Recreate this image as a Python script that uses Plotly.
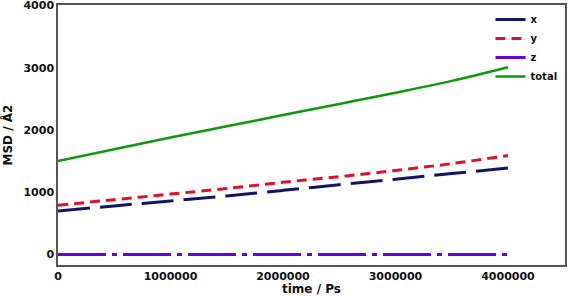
import plotly.graph_objects as go

time_ps = [0, 500000, 1000000, 1500000, 2000000, 2500000, 3000000, 3500000, 4000000]
msd_x = [700, 780, 860, 940, 1030, 1120, 1210, 1300, 1390]
msd_y = [790, 880, 970, 1060, 1160, 1250, 1350, 1460, 1590]
msd_z = [0, 0, 0, 0, 0, 0, 0, 0, 0]
msd_total = [1500, 1690, 1880, 2060, 2240, 2420, 2600, 2790, 3010]

x_ticks = [0, 1000000, 2000000, 3000000, 4000000]
y_ticks = [0, 1000, 2000, 3000, 4000]

font = dict(family="DejaVu Sans", size=11, color="#111111", weight="bold")

fig = go.Figure()
fig.add_trace(go.Scatter(x=time_ps, y=msd_x, name="x", mode="lines", line_shape="spline",
                         line=dict(color="#141466", width=3, dash="32px,10px")))
fig.add_trace(go.Scatter(x=time_ps, y=msd_y, name="y", mode="lines", line_shape="spline",
                         line=dict(color="#e0102a", width=3, dash="10px,6px")))
fig.add_trace(go.Scatter(x=time_ps, y=msd_z, name="z", mode="lines",
                         line=dict(color="#6a00d8", width=3, dash="48px,6px,5px,6px")))
fig.add_trace(go.Scatter(x=time_ps, y=msd_total, name="total", mode="lines", line_shape="spline",
                         line=dict(color="#0a9a0a", width=2.5)))

fig.update_layout(
    width=568, height=296,
    margin=dict(l=58, r=3, t=5, b=31),
    paper_bgcolor="white", plot_bgcolor="white",
    font=font,
    showlegend=True,
    legend=dict(x=0.995, y=1.0, xanchor="right", yanchor="top",
                bgcolor="rgba(0,0,0,0)", font=dict(family="DejaVu Sans", size=10, weight="bold"),
                tracegroupgap=0, itemwidth=30),
)
fig.update_xaxes(range=[0, 4507000], tickvals=x_ticks, ticktext=[str(v) for v in x_ticks],
                 automargin=False, ticklabeloverflow="allow",
                 showgrid=False, zeroline=False, showline=True, mirror=True,
                 linecolor="#555555", linewidth=1.5, ticks="",
                 title=dict(text="time / Ps", standoff=4, font=dict(size=12, weight="bold")))
fig.update_yaxes(range=[-170, 4010], tickvals=y_ticks, ticktext=[str(v) for v in y_ticks],
                 automargin=False, ticklabeloverflow="allow",
                 showgrid=False, zeroline=False, showline=True, mirror=True,
                 linecolor="#555555", linewidth=1.5, ticks="",
                 title=dict(text="MSD / Å2", standoff=8, font=dict(size=12, weight="bold")))

fig.write_html("out.html", config={"displayModeBar": False},
               post_script="document.body.style.margin='0';")
